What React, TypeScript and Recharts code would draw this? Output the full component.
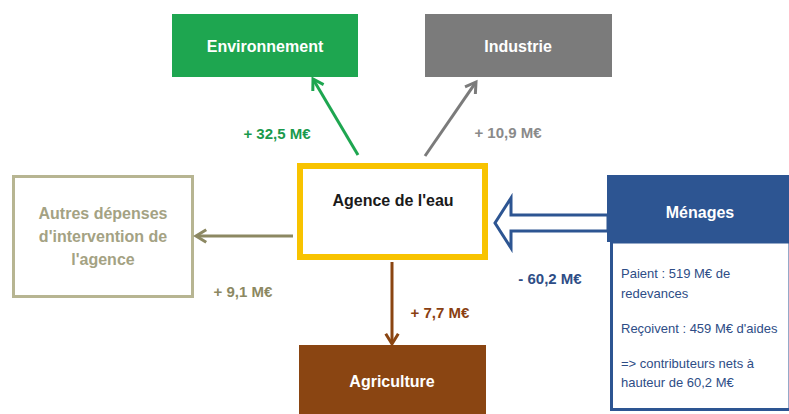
import React from 'react'
import { ScatterChart, Scatter, XAxis, YAxis, ReferenceArea, ReferenceLine } from 'recharts'

const W = 789
const H = 414

// secteurs et flux nets de l'agence (M€)
const sectors = ['Environnement', 'Industrie', 'Autres', 'Agriculture', 'Ménages']
const autresLines = ['Autres dépenses', "d'intervention de", "l'agence"]
const netFlows = [32.5, 10.9, 9.1, 7.7, -60.2]
const agencyName = "Agence de l'eau"
const menagesPaid = 519
const menagesAids = 459

const fmt = (v: number) => `${v < 0 ? '-' : '+'} ${Math.abs(v).toFixed(1).replace('.', ',')} M€`

const C = {
  green: '#1ea650',
  greenText: '#1a9a4c',
  gray: '#7b7b7b',
  grayText: '#8a8a8a',
  olive: '#8c8862',
  oliveBox: '#b7b592',
  oliveText: '#a4a283',
  brown: '#8a4512',
  brownText: '#8a3f12',
  yellow: '#f8c300',
  blue: '#2d5592',
  blueText: '#2e4d86',
}

const FONT = "'Liberation Sans', Arial, sans-serif"
const NARROW = "'Liberation Sans Narrow', 'Arial Narrow', 'Liberation Sans', sans-serif"

// boxes: [x1, x2, y1, y2] in chart units
const boxLayout = [
  { x1: 172, x2: 358, y1: 14, y2: 77, fill: C.green, stroke: 'none', sw: 0 },
  { x1: 425, x2: 612, y1: 14, y2: 77, fill: C.gray, stroke: 'none', sw: 0 },
  { x1: 13.5, x2: 192.5, y1: 176.5, y2: 296.5, fill: '#fff', stroke: C.oliveBox, sw: 3 },
  { x1: 299, x2: 486, y1: 345, y2: 414, fill: C.brown, stroke: 'none', sw: 0 },
  { x1: 611.5, x2: 790, y1: 242, y2: 409.5, fill: '#fff', stroke: C.blue, sw: 3 },
  { x1: 607, x2: 789, y1: 175, y2: 242, fill: C.blue, stroke: 'none', sw: 0 },
  { x1: 300, x2: 485, y1: 166, y2: 257, fill: '#fff', stroke: C.yellow, sw: 6 },
]

const arrowLayout = [
  { from: { x: 358, y: 155 }, to: { x: 313, y: 79 }, color: C.green },
  { from: { x: 425, y: 156 }, to: { x: 476, y: 82 }, color: C.gray },
  { from: { x: 293, y: 236 }, to: { x: 196, y: 236 }, color: C.olive },
  { from: { x: 392, y: 262 }, to: { x: 392, y: 344 }, color: C.brown },
]

const textStyles: Record<string, any> = {
  head: { fill: '#fff', fontSize: 16, fontWeight: 700, fontFamily: FONT, textAnchor: 'middle' },
  agency: { fill: '#1a1a1a', fontSize: 16, fontWeight: 700, fontFamily: FONT, textAnchor: 'middle' },
  autres: { fill: C.oliveText, fontSize: 16, fontWeight: 700, fontFamily: FONT, textAnchor: 'middle' },
  body: { fill: C.blueText, fontSize: 13, fontFamily: NARROW, textAnchor: 'start' },
}

const flowColors = [C.greenText, C.grayText, C.olive, C.brownText, C.blueText]
const flowPos = [
  { x: 277, y: 133 },
  { x: 508, y: 132 },
  { x: 243, y: 291 },
  { x: 440, y: 312 },
  { x: 550, y: 278 },
]

const bodyLines = [
  `Paient : ${menagesPaid} M€ de`,
  'redevances',
  `Reçoivent : ${menagesAids} M€ d'aides`,
  '=> contributeurs nets à',
  `hauteur de ${fmt(netFlows[4]).slice(2)}`,
]
const bodyY = [273, 293, 328, 363, 382]

const texts = [
  { x: 265, y: 46, text: sectors[0], kind: 'head' },
  { x: 518, y: 46, text: sectors[1], kind: 'head' },
  { x: 392, y: 381, text: sectors[3], kind: 'head' },
  { x: 700, y: 212, text: sectors[4], kind: 'head' },
  { x: 393, y: 200, text: agencyName, kind: 'agency' },
  ...autresLines.map((t, i) => ({ x: 103, y: 213 + i * 23, text: t, kind: 'autres' })),
  ...netFlows.map((v, i) => ({ ...flowPos[i], text: fmt(v), kind: 'flow', color: flowColors[i] })),
  ...bodyLines.map((t, i) => ({ x: 621, y: bodyY[i], text: t, kind: 'body' })),
]

function lineArrow(color: string) {
  return (p: any) => {
    const { x1, y1, x2, y2 } = p
    const a = Math.atan2(y2 - y1, x2 - x1)
    const len = 12
    const spread = 0.55
    const ex = x2 - 2 * Math.cos(a)
    const ey = y2 - 2 * Math.sin(a)
    const l = [x2 - len * Math.cos(a - spread), y2 - len * Math.sin(a - spread)]
    const r = [x2 - len * Math.cos(a + spread), y2 - len * Math.sin(a + spread)]
    return (
      <g>
        <line x1={x1} y1={y1} x2={ex} y2={ey} stroke={color} strokeWidth={3} />
        <polyline
          points={`${l[0]},${l[1]} ${x2},${y2} ${r[0]},${r[1]}`}
          fill="none"
          stroke={color}
          strokeWidth={3}
          strokeLinejoin="miter"
        />
      </g>
    )
  }
}

function hollowArrow(p: any) {
  const { x1, y1, x2, y2 } = p
  const cy = (y1 + y2) / 2
  const bx = x2 + 16
  const pts = [
    [x1, cy - 8],
    [bx, cy - 8],
    [bx, cy - 25],
    [x2, cy],
    [bx, cy + 25],
    [bx, cy + 8],
    [x1, cy + 8],
  ]
  return <polygon points={pts.map((q) => q.join(',')).join(' ')} fill="#fff" stroke={C.blue} strokeWidth={3} />
}

function TextShape(p: any) {
  const d = p.payload
  const st =
    d.kind === 'flow'
      ? { fill: d.color, fontSize: 15, fontWeight: 700, fontFamily: FONT, textAnchor: 'middle' }
      : textStyles[d.kind]
  return (
    <text x={p.cx} y={p.cy} dominantBaseline="central" {...st}>
      {d.text}
    </text>
  )
}

export default function App() {
  return (
    <div style={{ position: 'absolute', left: 0, top: 0, width: W, height: H, background: '#fff' }}>
      <ScatterChart width={W} height={H} margin={{ top: 0, right: 0, bottom: 0, left: 0 }}>
        <XAxis type="number" dataKey="x" domain={[0, W]} hide allowDataOverflow />
        <YAxis type="number" dataKey="y" domain={[0, H]} reversed hide allowDataOverflow />
        {arrowLayout.map((a, i) => (
          <ReferenceLine key={`a${i}`} segment={[a.from, a.to]} ifOverflow="visible" shape={lineArrow(a.color)} />
        ))}
        <ReferenceLine segment={[{ x: 608, y: 223 }, { x: 495, y: 223 }]} ifOverflow="visible" shape={hollowArrow} />
        {boxLayout.map((b, i) => (
          <ReferenceArea
            key={`b${i}`}
            x1={b.x1}
            x2={b.x2}
            y1={b.y1}
            y2={b.y2}
            fill={b.fill}
            fillOpacity={1}
            stroke={b.stroke}
            strokeWidth={b.sw}
            ifOverflow="visible"
          />
        ))}
        <Scatter data={texts} shape={TextShape} isAnimationActive={false} />
      </ScatterChart>
    </div>
  )
}
